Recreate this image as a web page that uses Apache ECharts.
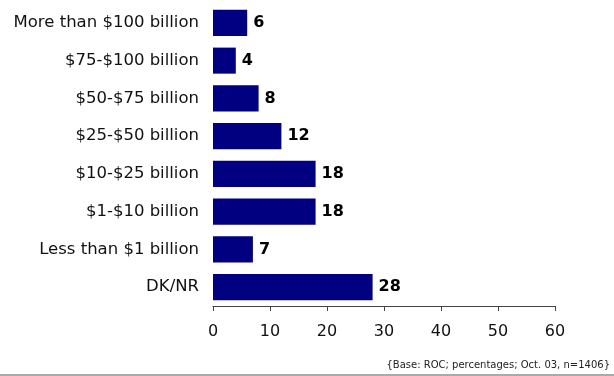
<!DOCTYPE html>
<html><head><meta charset="utf-8">
<script src="https://cdn.jsdelivr.net/npm/echarts@6/dist/echarts.min.js"></script>
<style>html,body{margin:0;padding:0;background:#fff}#c{width:614px;height:376px}</style>
</head><body><div id="c"></div>
<script>
const categories = ["More than $100 billion","$75-$100 billion","$50-$75 billion","$25-$50 billion","$10-$25 billion","$1-$10 billion","Less than $1 billion","DK/NR"];
const values = [6,4,8,12,18,18,7,28];
const xTicks = [0,10,20,30,40,50,60];
const footer = "{Base: ROC; percentages; Oct. 03, n=1406}";
const font = "DejaVu Sans";
const chart = echarts.init(document.getElementById('c'), null, {renderer:'canvas'});
chart.setOption({
  animation:false,
  grid:{left:213,right:59,top:4,bottom:70,containLabel:false},
  xAxis:{type:'value',min:xTicks[0],max:xTicks[xTicks.length-1],interval:10,
    axisLine:{show:true,lineStyle:{color:'#444',width:1}},
    axisTick:{show:true,length:5,lineStyle:{color:'#444'}},
    splitLine:{show:false},
    axisLabel:{color:'#111',fontSize:16,fontFamily:font,margin:18}},
  yAxis:{type:'category',inverse:true,data:categories,
    axisLine:{show:false},axisTick:{show:false},
    axisLabel:{color:'#111',fontSize:16.5,fontFamily:font,margin:14}},
  series:[{type:'bar',data:values,barCategoryGap:'31%',
    itemStyle:{color:'#000080'},
    label:{show:true,position:'right',distance:6,color:'#000',fontSize:16,fontWeight:'bold',fontFamily:font}}],
  graphic:[
    {type:'text',right:4,top:360,style:{text:footer,fontSize:10,fontFamily:font,fill:'#222'}},
    {type:'rect',shape:{x:0,y:374,width:614,height:2},style:{fill:'#aaa'}}
  ]
});
</script></body></html>
